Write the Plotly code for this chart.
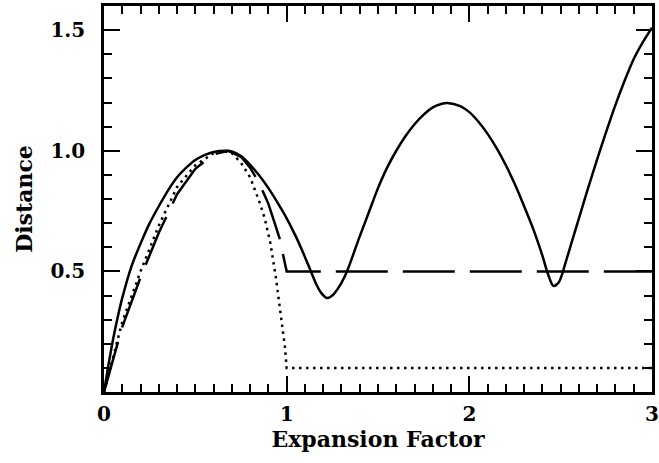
import plotly.graph_objects as go

# Solid curve
solid_x = [0.0, 0.025, 0.05, 0.075, 0.1, 0.15, 0.2, 0.25, 0.3, 0.35, 0.4, 0.45, 0.5, 0.55, 0.6, 0.67,
           0.7, 0.75, 0.8, 0.85, 0.9, 0.95, 1.0, 1.05, 1.1, 1.13, 1.16, 1.19, 1.22, 1.25, 1.29, 1.33,
           1.4, 1.45, 1.5, 1.55, 1.6, 1.65, 1.7, 1.75, 1.8, 1.85, 1.88, 1.95, 2.0, 2.05, 2.1, 2.15,
           2.2, 2.25, 2.3, 2.35, 2.4, 2.43, 2.46, 2.49, 2.53, 2.56, 2.6, 2.65, 2.7, 2.75, 2.8, 2.85,
           2.9, 2.95, 3.0]
solid_y = [0.0, 0.115, 0.22, 0.31, 0.39, 0.52, 0.615, 0.70, 0.77, 0.835, 0.89, 0.93, 0.962, 0.982, 0.995, 1.0,
           0.997, 0.978, 0.942, 0.897, 0.845, 0.785, 0.72, 0.645, 0.56, 0.505, 0.45, 0.41, 0.39, 0.40, 0.44, 0.50,
           0.645, 0.745, 0.845, 0.93, 1.0, 1.06, 1.11, 1.15, 1.18, 1.195, 1.198, 1.185, 1.16, 1.12, 1.07, 1.01,
           0.94, 0.86, 0.77, 0.675, 0.565, 0.49, 0.44, 0.455, 0.545, 0.62, 0.72, 0.845, 0.965, 1.08, 1.19, 1.29,
           1.38, 1.45, 1.51]

# Dashed curve
dashed_x = [0.0, 0.05, 0.1, 0.2, 0.3, 0.4, 0.5, 0.6, 0.68, 0.75, 0.8, 0.85, 0.9, 0.93, 0.96, 0.98, 1.0, 3.0]
dashed_y = [0.0, 0.14, 0.27, 0.475, 0.66, 0.82, 0.925, 0.985, 1.0, 0.975, 0.93, 0.865, 0.78, 0.71, 0.64, 0.57, 0.50, 0.50]

# Dotted curve
dotted_x = [0.0, 0.05, 0.1, 0.2, 0.3, 0.4, 0.5, 0.6, 0.65, 0.7, 0.75, 0.8, 0.85, 0.88, 0.91, 0.94,
            0.96, 0.975, 0.99, 1.0, 3.0]
dotted_y = [0.0, 0.15, 0.29, 0.50, 0.69, 0.85, 0.94, 0.99, 1.0, 0.99, 0.95, 0.89, 0.79, 0.72, 0.62, 0.48,
            0.37, 0.29, 0.19, 0.10, 0.10]

x_ticks = [0, 1, 2, 3]
x_tick_labels = ["0", "1", "2", "3"]
y_ticks = [0.5, 1.0, 1.5]
y_tick_labels = ["0.5", "1.0", "1.5"]

FONT = "DejaVu Serif"

fig = go.Figure()
fig.add_trace(go.Scatter(x=dotted_x, y=dotted_y, mode="lines",
                         line=dict(color="black", width=2.5, dash="2.5px,4.5px")))
fig.add_trace(go.Scatter(x=dashed_x, y=dashed_y, mode="lines",
                         line=dict(color="black", width=2.5, dash="52px,15px")))
fig.add_trace(go.Scatter(x=solid_x, y=solid_y, mode="lines",
                         line=dict(color="black", width=2.5, shape="spline", smoothing=0.8)))

axis_common = dict(
    showgrid=False, zeroline=False, showline=True, linecolor="black", linewidth=2.5,
    mirror="allticks", ticks="inside", ticklen=16, tickwidth=2, tickcolor="black",
    tickfont=dict(family=FONT, size=20, color="black", weight="bold"),
    automargin=False,
)

fig.update_xaxes(
    range=[0, 3], tickvals=x_ticks, ticktext=x_tick_labels,
    minor=dict(ticks="inside", ticklen=8, tickwidth=2, tickcolor="black", dtick=0.1, tick0=0),
    title=dict(text="Expansion Factor", font=dict(family=FONT, size=22, color="black", weight="bold"),
               standoff=6),
    ticklabelstandoff=2,
    **axis_common,
)
fig.update_yaxes(
    range=[0, 1.6], tickvals=y_ticks, ticktext=y_tick_labels,
    minor=dict(ticks="inside", ticklen=8, tickwidth=2, tickcolor="black", dtick=0.1, tick0=0),
    title=dict(text="Distance", font=dict(family=FONT, size=22, color="black", weight="bold"),
               standoff=12),
    ticklabelstandoff=12,
    **axis_common,
)

fig.update_layout(
    width=659, height=463,
    margin=dict(l=104, r=7, t=6, b=71),
    paper_bgcolor="white", plot_bgcolor="white",
    showlegend=False,
)

fig.write_html("out.html", config={"displayModeBar": False},
               post_script="document.body.style.margin='0';")
